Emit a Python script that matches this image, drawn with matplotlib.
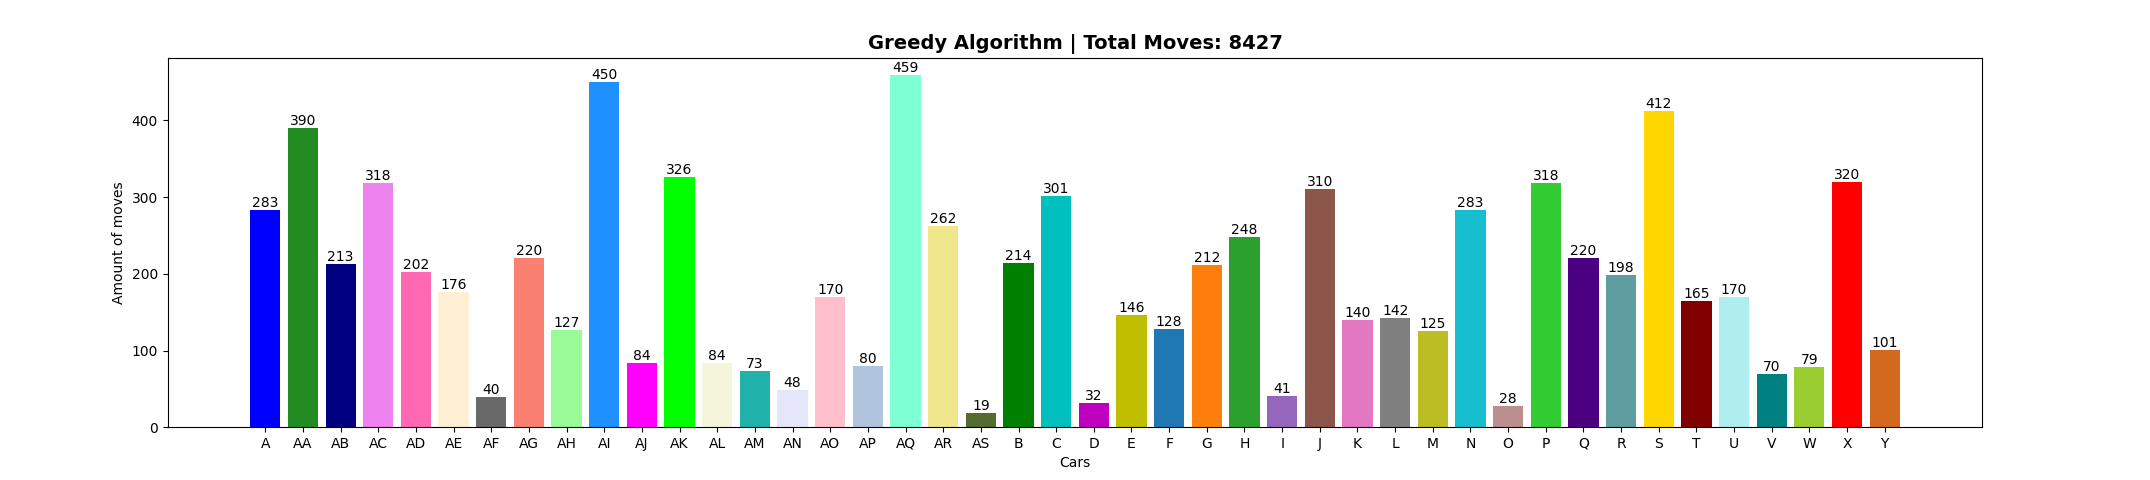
import matplotlib
matplotlib.use("Agg")
import matplotlib.pyplot as plt

cars = ["A", "AA", "AB", "AC", "AD", "AE", "AF", "AG", "AH", "AI", "AJ", "AK", "AL", "AM", "AN",
        "AO", "AP", "AQ", "AR", "AS", "B", "C", "D", "E", "F", "G", "H", "I", "J", "K", "L", "M",
        "N", "O", "P", "Q", "R", "S", "T", "U", "V", "W", "X", "Y"]
moves = [283, 390, 213, 318, 202, 176, 40, 220, 127, 450, 84, 326, 84, 73, 48,
         170, 80, 459, 262, 19, 214, 301, 32, 146, 128, 212, 248, 41, 310, 140, 142, 125,
         283, 28, 318, 220, 198, 412, 165, 170, 70, 79, 320, 101]
colors = ["blue", "forestgreen", "navy", "violet", "hotpink", "papayawhip", "dimgray", "salmon",
          "palegreen", "dodgerblue", "magenta", "lime", "beige", "lightseagreen", "lavender",
          "pink", "lightsteelblue", "aquamarine", "khaki", "darkolivegreen", "green", "c", "m",
          "y", "tab:blue", "tab:orange", "tab:green", "tab:purple", "tab:brown", "tab:pink",
          "tab:gray", "tab:olive", "tab:cyan", "rosybrown", "limegreen", "indigo", "cadetblue",
          "gold", "maroon", "paleturquoise", "teal", "yellowgreen", "red", "chocolate"]

total = 8427

fig, ax = plt.subplots(figsize=(21.5, 4.8), dpi=100)
fig.subplots_adjust(left=0.078, right=0.922, top=0.88, bottom=0.11)
bars = ax.bar(cars, moves, color=colors)
ax.bar_label(bars)
ax.set_xlabel("Cars")
ax.set_ylabel("Amount of moves")
ax.set_title(f"Greedy Algorithm | Total Moves: {total}", fontsize=14, fontweight="bold")
fig.savefig("out.png")
